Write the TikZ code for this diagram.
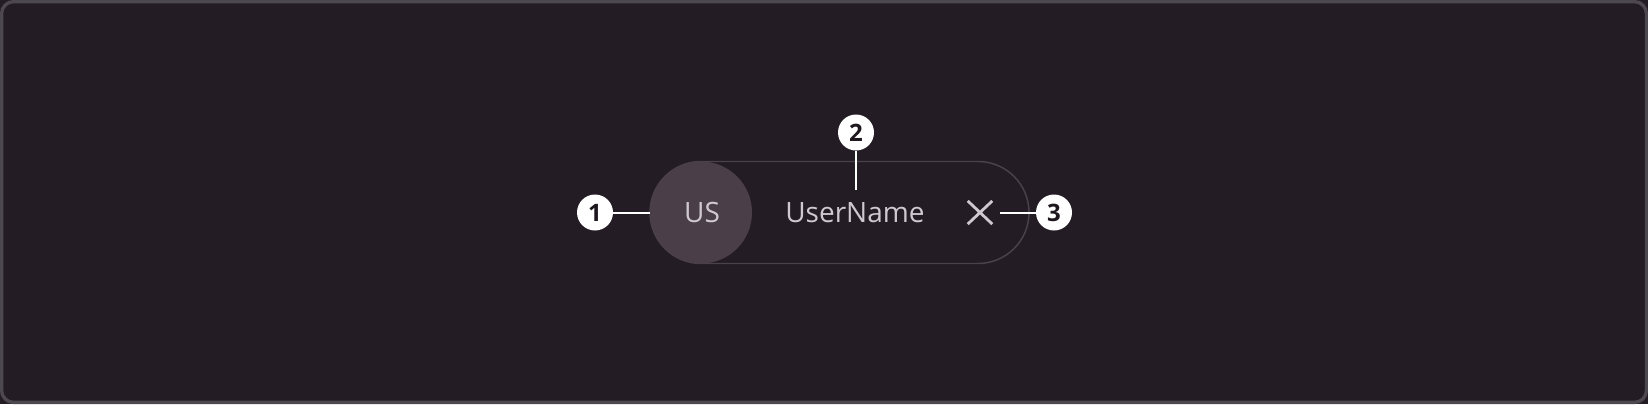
\documentclass[tikz,border=0pt]{standalone}
\usepackage{fontspec}
\setmainfont{Open Sans}
\definecolor{bgc}{HTML}{241C24}
\definecolor{framec}{HTML}{4D474F}
\definecolor{chipline}{HTML}{4A424B}
\definecolor{avatarc}{HTML}{4A3F49}
\definecolor{txtc}{HTML}{CFC8CF}
\definecolor{digitc}{HTML}{1E171E}
\tikzset{
  px/.style={x=0.75pt,y=-0.75pt},
  marker/.style={circle,fill=white,inner sep=0pt,minimum size=27pt,
    font=\fontsize{18}{18}\selectfont\bfseries,text=digitc},
  leader/.style={white,line width=1.5pt},
  label/.style={font=\fontsize{21}{21}\selectfont,text=txtc,inner sep=0pt,anchor=base},
}
\begin{document}
\begin{tikzpicture}[px]
\useasboundingbox (0,0) rectangle (1648,404);
\fill[bgc] (0,0) rectangle (1648,404);
\draw[framec,line width=2.5pt,rounded corners=9pt] (1.6,1.6) rectangle (1646.4,402.4);
% chip
\node[draw=chipline,line width=1.1pt,rounded corners=38.25pt,minimum width=284.25pt,minimum height=76.5pt,inner sep=0pt] (chip) at (839.5,212.5) {};
\node[circle,fill=avatarc,minimum size=76.5pt,inner sep=0pt] (avatar) at (701,212.5) {};
\node[label] (us) at (702,222.5) {US};
\node[label] (uname) at (855,222.5) {UserName};
% close icon
\node[minimum width=18pt,minimum height=17pt,inner sep=0pt] (close) at (980,212.5) {};
\draw[txtc,line width=2.1pt] (close.north west) -- (close.south east)
  (close.north east) -- (close.south west);
% markers
\node[marker] (m1) at (595,212.5) {1};
\node[marker] (m2) at (856,132.5) {2};
\node[marker] (m3) at (1054,212.5) {3};
\coordinate (c2) at (856,190);
\coordinate (c3) at (1000,212.5);
\draw[leader] (m1.east) -- (avatar.west);
\draw[leader] (m2.south) -- (c2);
\draw[leader] (m3.west) -- (c3);
\end{tikzpicture}
\end{document}
